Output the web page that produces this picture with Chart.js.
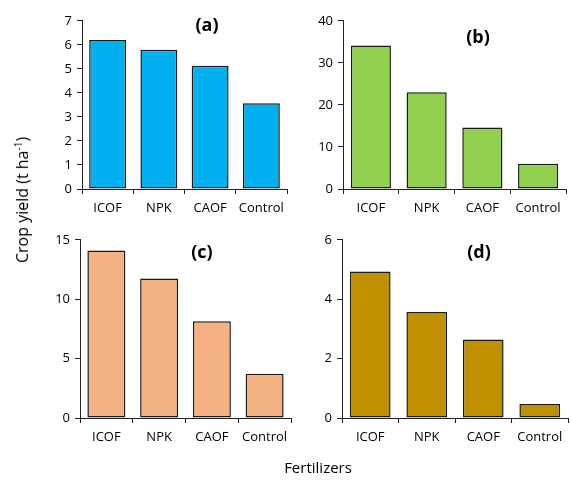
<!DOCTYPE html>
<html>
<head>
<meta charset="utf-8">
<script src="https://cdn.jsdelivr.net/npm/chart.js@4/dist/chart.umd.min.js"></script>
<style>
  html, body { margin:0; padding:0; background:#fff; }
  #wrap { position:relative; width:571px; height:482px; overflow:hidden; font-family:"Open Sans", sans-serif; color:#000; }
  canvas { position:absolute; }
  .lbl { position:absolute; font-weight:bold; font-size:18px; transform:translate(-50%,-50%); white-space:nowrap; }
  #ytitle { position:absolute; left:22px; top:200px; font-size:16px; transform:translate(-50%,-50%) rotate(-90deg); white-space:nowrap; }
  #xtitle { position:absolute; left:318px; top:467px; font-size:15px; transform:translate(-50%,-50%); white-space:nowrap; }
  sup { font-size:10px; vertical-align:6px; }
</style>
</head>
<body>
<div id="wrap">
  <canvas id="ca"></canvas>
  <canvas id="cb"></canvas>
  <canvas id="cc"></canvas>
  <canvas id="cd"></canvas>
  <div class="lbl" style="left:207px;top:24px;">(a)</div>
  <div class="lbl" style="left:478px;top:36px;">(b)</div>
  <div class="lbl" style="left:202px;top:251px;">(c)</div>
  <div class="lbl" style="left:479px;top:251px;">(d)</div>
  <div id="ytitle">Crop yield (t ha<sup>-1</sup>)</div>
  <div id="xtitle">Fertilizers</div>
</div>
<script>
const categories = ['ICOF', 'NPK', 'CAOF', 'Control'];
const yieldA = [6.2, 5.8, 5.13, 3.57];
const yieldB = [34.1, 23.0, 14.6, 6.0];
const yieldC = [14.1, 11.75, 8.15, 3.73];
const yieldD = [4.93, 3.57, 2.64, 0.47];
const axisMax = [7, 40, 15, 6];
const axisStep = [1, 10, 5, 2];
const colors = ['#00B0F0', '#92D050', '#F4B183', '#BF9000'];

const YW = 50, XH = 38, PT = 12, PR = 6;

function makePanel(id, values, color, max, step, L, T, R, B) {
  const cv = document.getElementById(id);
  const w = R - L + YW + PR, h = B - T + PT + XH;
  cv.width = w; cv.height = h;
  cv.style.left = (L - YW) + 'px';
  cv.style.top = (T - PT) + 'px';
  cv.style.width = w + 'px'; cv.style.height = h + 'px';
  new Chart(cv, {
    type: 'bar',
    data: {
      labels: categories,
      datasets: [{
        data: values,
        backgroundColor: color,
        borderColor: '#1a1a1a',
        borderWidth: 1.5,
        borderSkipped: false,
        categoryPercentage: 1,
        barPercentage: 0.72
      }]
    },
    options: {
      responsive: false,
      devicePixelRatio: 1,
      animation: false,
      layout: { padding: { top: PT, right: PR, left: 0, bottom: 0 } },
      plugins: { legend: { display: false }, tooltip: { enabled: false } },
      scales: {
        x: {
          offset: true,
          grid: { offset: true, drawOnChartArea: false, drawTicks: true, tickLength: 5, color: '#222' },
          border: { color: '#222', width: 1 },
          ticks: { color: '#000', font: { family: 'Open Sans', size: 13 }, padding: 6, maxRotation: 0, autoSkip: false },
          afterFit: (s) => { s.height = XH; }
        },
        y: {
          min: 0, max: max,
          grid: { drawOnChartArea: false, drawTicks: true, tickLength: 5, color: '#222' },
          border: { color: '#222', width: 1 },
          ticks: { stepSize: step, color: '#000', font: { family: 'Open Sans', size: 13 }, padding: 5 },
          afterFit: (s) => { s.width = YW; }
        }
      }
    }
  });
}

makePanel('ca', yieldA, colors[0], axisMax[0], axisStep[0], 82, 20, 287, 189);
makePanel('cb', yieldB, colors[1], axisMax[1], axisStep[1], 343, 20, 566, 189);
makePanel('cc', yieldC, colors[2], axisMax[2], axisStep[2], 80, 239, 291, 418);
makePanel('cd', yieldD, colors[3], axisMax[3], axisStep[3], 342, 239, 568, 418);
</script>
</body>
</html>
